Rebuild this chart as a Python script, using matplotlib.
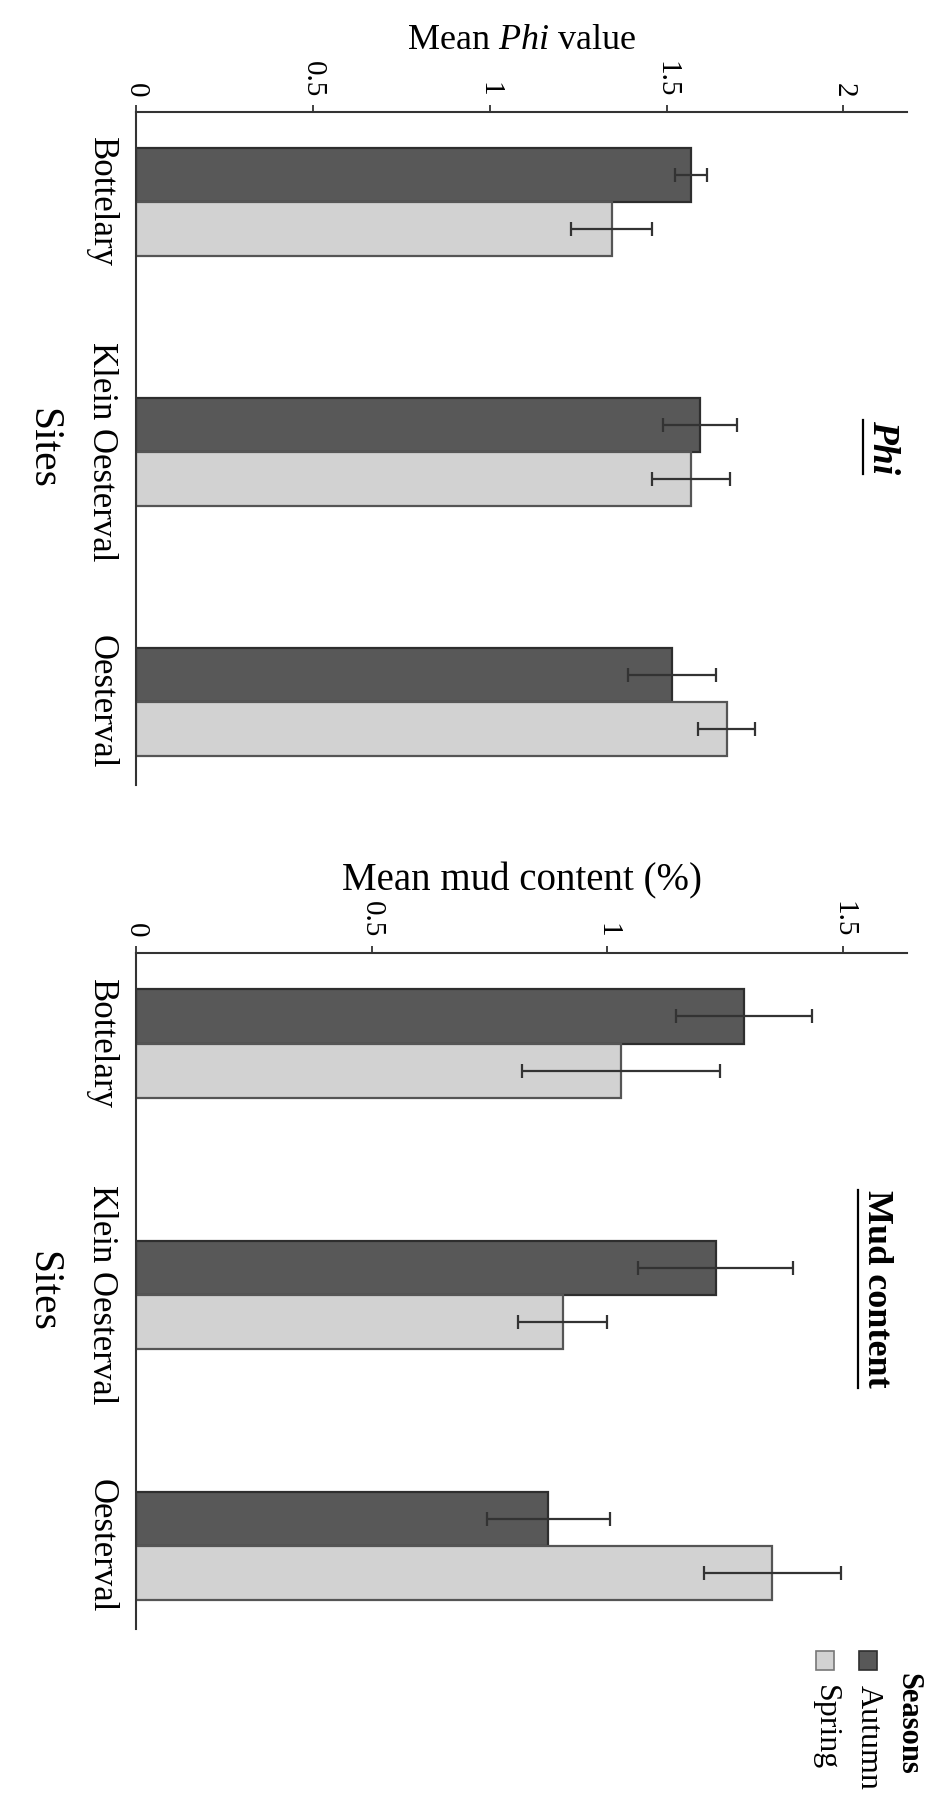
import numpy as np
import matplotlib
matplotlib.use("Agg")
import matplotlib.pyplot as plt
from matplotlib.patches import Rectangle
from matplotlib.lines import Line2D

plt.rcParams['font.family'] = ['Liberation Serif', 'DejaVu Serif']
plt.rcParams['mathtext.fontset'] = 'custom'
plt.rcParams['mathtext.rm'] = 'Liberation Serif'
plt.rcParams['mathtext.it'] = 'Liberation Serif:italic'

# data
sites = ["Bottelary", "Klein Oesterval", "Oesterval"]
seasons = ["Autumn", "Spring"]

phi_autumn = [1.57, 1.595, 1.515]
phi_autumn_err = [0.045, 0.105, 0.125]
phi_spring = [1.345, 1.57, 1.67]
phi_spring_err = [0.115, 0.11, 0.08]

mud_autumn = [1.29, 1.23, 0.875]
mud_autumn_err = [0.145, 0.165, 0.13]
mud_spring = [1.03, 0.905, 1.35]
mud_spring_err = [0.21, 0.095, 0.145]

phi_ticks = [0, 0.5, 1, 1.5, 2]
phi_ticklabels = ["0", "0.5", "1", "1.5", "2"]
mud_ticks = [0, 0.5, 1, 1.5]
mud_ticklabels = ["0", "0.5", "1", "1.5"]

c_autumn = '#585858'
c_spring = '#d2d2d2'

fig = plt.figure(figsize=(9.38, 18.12), dpi=100)
ax1 = fig.add_axes([0.145, 0.567, 0.822, 0.371])
ax2 = fig.add_axes([0.145, 0.101, 0.822, 0.373])


def panel(ax, autumn, aerr, spring, serr, xmax, ticks, ticklabels, xlabel, xlsize):
    y = np.arange(len(sites))
    h = 0.216
    ekw = dict(ecolor='#333333', capsize=5, elinewidth=1.6, capthick=1.6)
    ax.barh(y - h / 2, autumn, height=h, color=c_autumn, edgecolor='#2e2e2e',
            linewidth=1.6, xerr=aerr, error_kw=ekw)
    ax.barh(y + h / 2, spring, height=h, color=c_spring, edgecolor='#555555',
            linewidth=1.6, xerr=serr, error_kw=ekw)
    ax.set_xlim(0, xmax)
    ax.set_ylim(2.33, -0.36)
    ax.xaxis.tick_top()
    ax.xaxis.set_label_position('top')
    ax.set_xticks(ticks)
    ax.set_xticklabels(ticklabels, rotation=270, fontsize=21)
    ax.tick_params(axis='x', length=5, width=1.3, pad=6, color='#333333')
    ax.set_yticks(y)
    ax.set_yticklabels(sites, rotation=270, fontsize=25, va='center')
    ax.tick_params(axis='y', length=0, pad=13)
    for s in ['right', 'bottom']:
        ax.spines[s].set_visible(False)
    for s in ['left', 'top']:
        ax.spines[s].set_linewidth(1.5)
        ax.spines[s].set_color('#333333')
    ax.set_xlabel(xlabel, fontsize=xlsize, labelpad=8)
    ax.set_ylabel("Sites", rotation=270, fontsize=30, va='top', labelpad=17)


panel(ax1, phi_autumn, phi_autumn_err, phi_spring, phi_spring_err,
      2.18, phi_ticks, phi_ticklabels, "Mean $\\mathit{Phi}$ value", 26)
panel(ax2, mud_autumn, mud_autumn_err, mud_spring, mud_spring_err,
      1.636, mud_ticks, mud_ticklabels, "Mean mud content (%)", 28)

t1 = ax1.text(0.968, 0.502, "Phi", rotation=270, transform=ax1.transAxes,
              fontsize=27, fontweight='bold', fontstyle='italic',
              ha='center', va='center')
t2 = ax2.text(0.96, 0.503, "Mud content", rotation=270, transform=ax2.transAxes,
              fontsize=26, fontweight='bold', ha='center', va='center')

# legend (drawn rotated like the rest)
W, H = 938.0, 1812.0
fig.text(908 / W, 1 - 1673 / H, "Seasons", rotation=270, fontsize=22,
         fontweight='bold', ha='center', va='top')
for name, col, ec, xc in zip(seasons, [c_autumn, c_spring], ['#2e2e2e', '#777777'], [868, 825]):
    fig.add_artist(Rectangle(((xc - 9) / W, 1 - 1670 / H), 18 / W, 19 / H,
                             transform=fig.transFigure, facecolor=col,
                             edgecolor=ec, linewidth=1.2))
    fig.text(xc / W, 1 - 1685 / H, name, rotation=270, fontsize=23,
             ha='center', va='top')

# underline the panel titles
fig.canvas.draw()
r = fig.canvas.get_renderer()
for t in (t1, t2):
    bb = t.get_window_extent(r)
    x = bb.x0 - 2
    fig.add_artist(Line2D([x / W, x / W], [bb.y0 / H, bb.y1 / H],
                          transform=fig.transFigure, color='black', linewidth=1.6))

fig.savefig("out.png", dpi=100, facecolor='white')
